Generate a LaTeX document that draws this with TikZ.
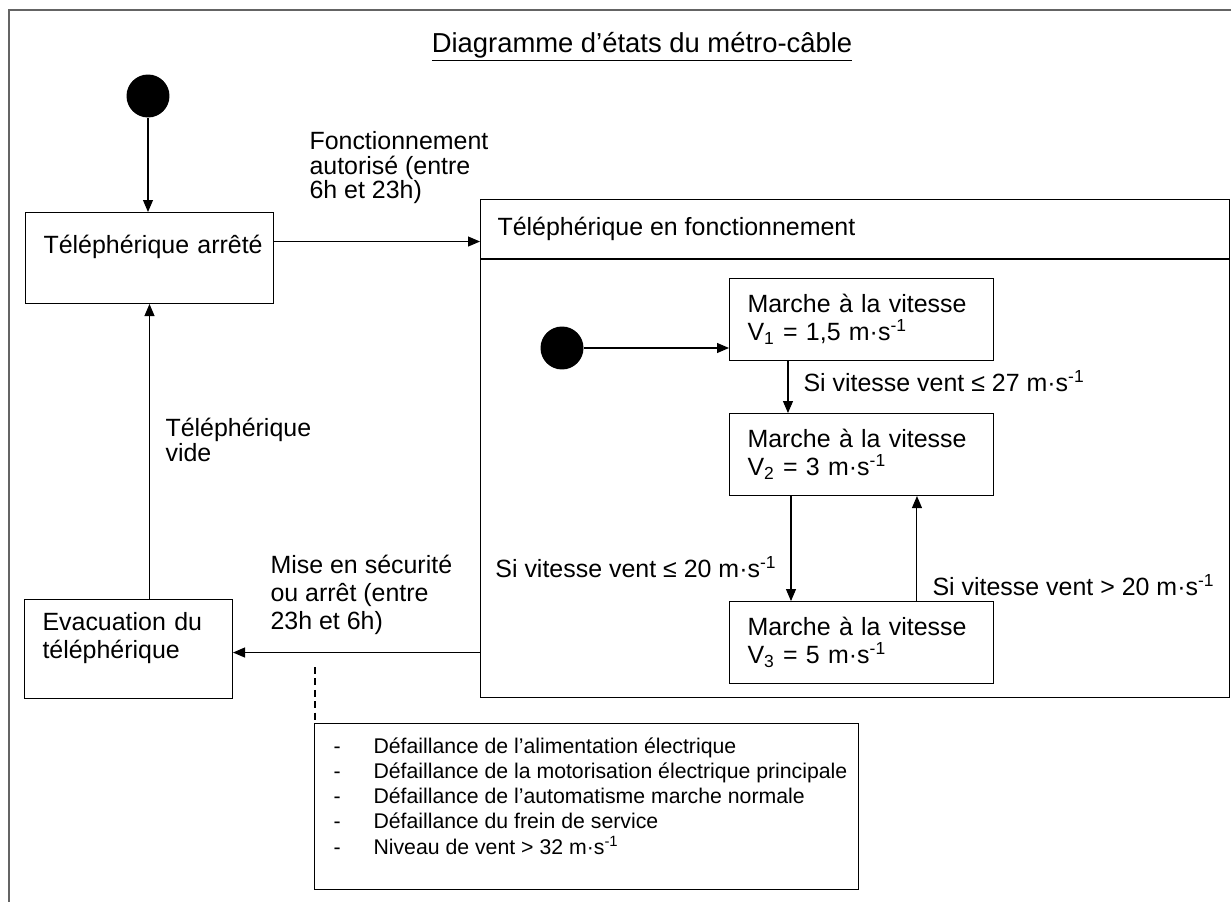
\documentclass[tikz,border=0pt]{standalone}
\usepackage{fontspec}
\setmainfont{Liberation Sans}
\usepackage{tikz}
\usetikzlibrary{arrows.meta, positioning}
\definecolor{framegray}{RGB}{100,100,100}
\newcommand{\statesize}{\fontsize{14.2}{15.9}\selectfont}
\newcommand{\tightsize}{\fontsize{14.2}{14}\selectfont}
\newcommand{\listsize}{\fontsize{12.1}{14.2}\selectfont}
\newcommand{\titlesize}{\fontsize{15.6}{18}\selectfont}

\begin{document}
\begin{tikzpicture}[x=0.02cm, y=-0.02cm, >={Triangle[length=0.24cm, width=0.2cm]}, line width=0.6pt,
            statebox/.style={draw, rectangle, anchor=north west, align=left, inner xsep=0.36cm, inner ysep=0pt, font=\statesize},
            initial/.style={circle, fill=black, minimum size=0.86cm, inner sep=0pt},
            trans/.style={inner sep=0pt, align=left, font=\statesize}]
            \useasboundingbox (0,0) rectangle (1231,902);
            \draw[framegray, line width=1.2pt] (9,902) -- (9,10) -- (1231,10);

            \node (title) [font=\titlesize] at (642,47) {\underline{Diagramme d’états du métro-câble}};

            \node (init_top) [initial] at (148,96) {};
            \node (stopped) [statebox, text width=4.24cm, minimum height=1.82cm] at (25,212) {\mbox{Téléphérique arrêté}\\ ~};
            \node (running) [draw, rectangle, anchor=north west, minimum width=14.98cm, minimum height=9.96cm] at (480,199) {};
            \node (running_title) [anchor=west, inner sep=0pt, font=\statesize] at ([xshift=0.34cm, yshift=-0.6cm]running.north west) {Téléphérique en fonctionnement};
            \draw ([yshift=-1.2cm]running.north west) -- ([yshift=-1.2cm]running.north east);

                \node (init_inner) [initial] at (562,348) {};
                \node (speed_one) [statebox, text width=4.56cm, minimum height=1.64cm] at (729,278) {Marche à la vitesse\\V\textsubscript{1} = 1,5 m·s\textsuperscript{-1}};
                \node (speed_two) [statebox, text width=4.56cm, minimum height=1.64cm, below=1.04cm of speed_one] {Marche à la vitesse\\V\textsubscript{2} = 3 m·s\textsuperscript{-1}};
                \node (speed_three) [statebox, text width=4.56cm, minimum height=1.64cm, below=2.1cm of speed_two] {Marche à la vitesse\\V\textsubscript{3} = 5 m·s\textsuperscript{-1}};

                \draw[->] (init_inner) -- (init_inner -| speed_one.west);
                \draw[->] ([xshift=1.18cm]speed_one.south west) -- ([xshift=1.18cm]speed_two.north west);
                \node (wind_27) [trans, anchor=west] at (803,381) {Si vitesse vent ≤ 27 m·s\textsuperscript{-1}};
                \draw[->] ([xshift=1.24cm]speed_two.south west) -- ([xshift=1.24cm]speed_three.north west);
                \node (wind_20_low) [trans, anchor=east] at (777,567) {Si vitesse vent ≤ 20 m·s\textsuperscript{-1}};
                \draw[->] ([xshift=3.76cm]speed_three.north west) -- ([xshift=3.76cm]speed_two.south west);
                \node (wind_20_high) [trans, anchor=west] at (932,585) {Si vitesse vent > 20 m·s\textsuperscript{-1}};

            \node (evacuation) [statebox, text width=3.44cm, minimum height=1.98cm] at (24,599) {Evacuation du\\téléphérique\\ ~};

            \draw[->] (init_top) -- (init_top |- stopped.north);
            \draw[->] ([yshift=0.33cm]stopped.east) -- ([yshift=0.33cm]stopped.east -| running.west);
            \node (allowed) [trans, font=\tightsize, anchor=north west] at (309,131) {Fonctionnement\\autorisé (entre\\6h et 23h)};
            \draw[->] ([yshift=-0.07cm]evacuation.east -| running.west) -- ([yshift=-0.07cm]evacuation.east);
            \node (safety) [trans, anchor=north west] at (270,555) {Mise en sécurité\\ou arrêt (entre\\23h et 6h)};
            \draw[->] (evacuation.north -| stopped.south) -- (stopped.south);
            \node (empty) [trans, font=\tightsize, anchor=north west] at (165,418) {Téléphérique\\vide};

            \node (faults) [draw, rectangle, anchor=north west, minimum width=10.88cm, minimum height=3.32cm] at (314,723) {};
            \node (faults_list) [anchor=north west, inner sep=0pt, font=\listsize] at ([xshift=0.38cm, yshift=-0.26cm]faults.north west) {%
                \begin{tabular}{@{}p{0.8cm}@{}l@{}}
                - & Défaillance de l’alimentation électrique\\
                - & Défaillance de la motorisation électrique principale\\
                - & Défaillance de l’automatisme marche normale\\
                - & Défaillance du frein de service\\
                - & Niveau de vent > 32 m·s\textsuperscript{-1}
                \end{tabular}};
            \coordinate (dash_top) at (315,667);
            \draw[dashed, dash pattern=on 4pt off 2.5pt] (dash_top) -- (dash_top |- faults.north);
\end{tikzpicture}
\end{document}
